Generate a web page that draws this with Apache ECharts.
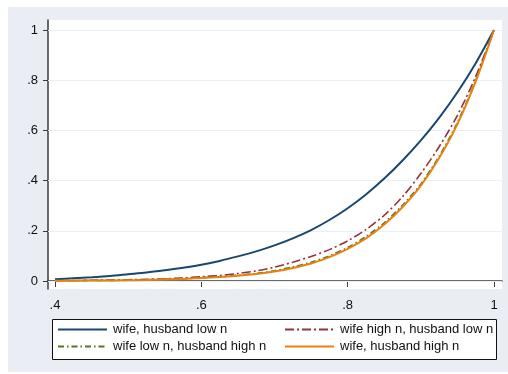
<!DOCTYPE html>
<html>
<head>
<meta charset="utf-8">
<script src="https://cdn.jsdelivr.net/npm/echarts@6/dist/echarts.min.js"></script>
<style>
  html, body { margin: 0; padding: 0; background: #ffffff; }
  #chart { width: 508px; height: 374px; }
</style>
</head>
<body>
<div id="chart"></div>
<script>
// Share of the maximum (horizontal axis)
const shares = [0.400, 0.425, 0.450, 0.475, 0.500, 0.525, 0.550, 0.575, 0.600, 0.625,
                0.650, 0.675, 0.700, 0.725, 0.750, 0.775, 0.800, 0.825, 0.850, 0.875,
                0.900, 0.925, 0.950, 0.975, 1.000];

// Cumulative probability per group
const wifeHusbandLow = [0.007, 0.011, 0.015, 0.020, 0.027, 0.034, 0.043, 0.053, 0.065, 0.080,
                        0.098, 0.118, 0.142, 0.170, 0.203, 0.243, 0.290, 0.345, 0.408, 0.480,
                        0.560, 0.650, 0.752, 0.868, 1.000];
const wifeHighHusbandLow = [0.002, 0.002, 0.003, 0.004, 0.005, 0.007, 0.009, 0.012, 0.017, 0.022,
                            0.030, 0.040, 0.055, 0.075, 0.098, 0.125, 0.160, 0.205, 0.262, 0.336,
                            0.428, 0.535, 0.660, 0.815, 1.000];
const wifeLowHusbandHigh = [0.001, 0.001, 0.002, 0.002, 0.003, 0.005, 0.007, 0.009, 0.013, 0.017,
                            0.023, 0.030, 0.041, 0.056, 0.075, 0.100, 0.134, 0.177, 0.232, 0.302,
                            0.387, 0.497, 0.632, 0.800, 1.000];
const wifeHusbandHigh = [0.001, 0.001, 0.002, 0.002, 0.003, 0.004, 0.006, 0.008, 0.012, 0.016,
                         0.021, 0.028, 0.038, 0.052, 0.070, 0.095, 0.128, 0.170, 0.225, 0.295,
                         0.380, 0.490, 0.625, 0.795, 1.000];

const seriesNames = ['wife, husband low n', 'wife high n, husband low n',
                     'wife low n, husband high n', 'wife, husband high n'];

// Tick labels
const xTicks = [0.4, 0.6, 0.8, 1];
const yTicks = [0, 0.2, 0.4, 0.6, 0.8, 1];

// Stata-style labels: drop the leading zero (".4", ".8")
const fmt = v => (v === 0 ? '0' : v === 1 ? '1' : String(v).replace(/^0/, ''));
const pairs = ys => shares.map((x, i) => [x, ys[i]]);

const FONT = 'Liberation Sans, Arial, sans-serif';
const AXIS = '#3a3a3a';
const PANEL = '#eaeef4';

// Plot area in pixels and the data range it spans
const G = { left: 48, top: 20, width: 454, height: 269 };
const X0 = 55, X1 = 494;      // pixels of x = .4 and x = 1
const Y0 = 281, Y1 = 30;      // pixels of y = 0 and y = 1
const xPer = (X1 - X0) / 0.6, yPer = (Y0 - Y1) / 1;
const xMin = 0.4 - (X0 - G.left) / xPer;
const xMax = 1 + (G.left + G.width - X1) / xPer;
const yMin = -(G.top + G.height - Y0) / yPer;
const yMax = 1 + (Y1 - G.top) / yPer;

const lineSeries = (name, ys, color, width, type, z) => ({
  name, type: 'line', data: pairs(ys), showSymbol: false, symbol: 'none',
  smooth: 0.3, z, silent: true,
  lineStyle: { color, width, type }, itemStyle: { color }
});

const legendBlock = (names, left) => ({
  data: names, orient: 'vertical', left, top: 323,
  itemWidth: 49, itemHeight: 14, itemGap: 4, padding: 0,
  itemStyle: { opacity: 0 },
  textStyle: { fontSize: 13, color: '#111', fontFamily: FONT, padding: [0, 0, 0, 1] }
});

const chart = echarts.init(document.getElementById('chart'), null, { renderer: 'canvas' });
chart.setOption({
  backgroundColor: '#ffffff',
  animation: false,
  textStyle: { fontFamily: FONT },
  graphic: [
    { type: 'rect', z: -100, shape: { x: 8, y: 7, width: 500, height: 365 }, style: { fill: PANEL } },
    { type: 'rect', z: -99, shape: { x: G.left, y: G.top, width: G.width, height: G.height }, style: { fill: '#ffffff' } },
    { type: 'rect', z: -98, shape: { x: 52.5, y: 319.5, width: 444, height: 40 },
      style: { fill: '#ffffff', stroke: '#111111', lineWidth: 1 } }
  ],
  grid: { left: G.left, top: G.top, width: G.width, height: G.height, containLabel: false },
  xAxis: {
    type: 'value', min: xMin, max: xMax,
    axisLine: { show: true, lineStyle: { color: AXIS, width: 1.5 } },
    axisTick: { show: true, length: 6, customValues: xTicks, lineStyle: { color: AXIS, width: 1 } },
    axisLabel: { customValues: xTicks, formatter: fmt, margin: 10, fontSize: 13, color: '#111', fontFamily: FONT },
    splitLine: { show: false }
  },
  yAxis: {
    type: 'value', min: yMin, max: yMax,
    axisLine: { show: true, lineStyle: { color: AXIS, width: 1.5 } },
    axisTick: { show: true, length: 5, customValues: yTicks, lineStyle: { color: AXIS, width: 1 } },
    axisLabel: { customValues: yTicks, formatter: fmt, margin: 10, fontSize: 13, color: '#111', fontFamily: FONT },
    splitLine: { show: false }
  },
  legend: [
    legendBlock([seriesNames[0], seriesNames[2]], 57),
    legendBlock([seriesNames[1], seriesNames[3]], 284)
  ],
  series: [
    {
      name: 'grid', type: 'line', data: [], z: 1, silent: true,
      markLine: {
        silent: true, symbol: 'none', label: { show: false }, z: 1,
        lineStyle: { color: '#eaeff5', width: 1, type: 'solid' },
        data: yTicks.map(v => ({ yAxis: v }))
      }
    },
    lineSeries(seriesNames[0], wifeHusbandLow, '#1a476f', 2, 'solid', 3),
    lineSeries(seriesNames[1], wifeHighHusbandLow, '#90353b', 1.6, [9, 3, 2, 3], 4),
    lineSeries(seriesNames[2], wifeLowHusbandHigh, '#55752f', 1.6, [6, 3, 1.5, 3], 5),
    lineSeries(seriesNames[3], wifeHusbandHigh, '#e8820c', 2, 'solid', 6)
  ]
});
</script>
</body>
</html>
